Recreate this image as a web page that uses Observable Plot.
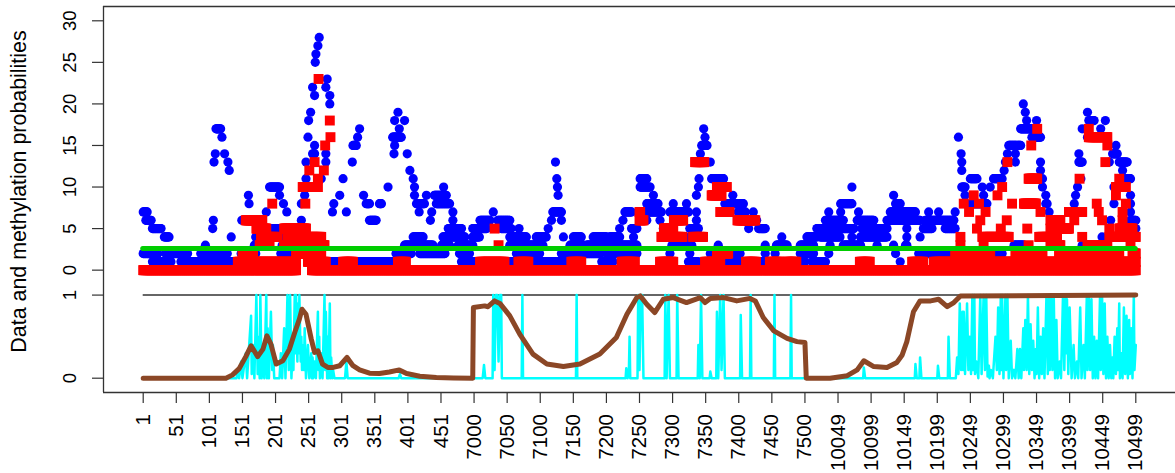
<!DOCTYPE html>
<html><head><meta charset="utf-8">
<script src="https://cdn.jsdelivr.net/npm/d3@7"></script>
<script src="https://cdn.jsdelivr.net/npm/@observablehq/plot@0.6"></script>
<style>body{margin:0;background:#fff}</style>
</head><body><div id="chart"></div>
<script>
// ---- axis categories ----
const xTickIndex = [1,51,101,151,201,251,301,351,401,451,501,551,601,651,701,751,801,851,901,951,1001,1051,1101,1151,1201,1251,1301,1351,1401,1451,1501];
const xTickLabels = ["1","51","101","151","201","251","301","351","401","451","7000","7050","7100","7150","7200","7250","7300","7350","7400","7450","7500","10049","10099","10149","10199","10249","10299","10349","10399","10449","10499"];
const countTicks = [0,5,10,15,20,25,30];
const probTicks = [0,1];
const yTitle = "Data and methylation probabilities";

// ---- top panel: total reads (blue) as runs [fromIndex, toIndex, count] ----
const blueRuns = [
[15,43,1],[58,116,1],[121,141,1],[285,382,1],[482,510,1],[547,568,1],[583,648,1],[655,663,1],[694,711,1],[825,840,1],[848,848,1],[885,913,1],[923,948,1],[969,969,1],[994,1001,1],[1012,1032,1],[1145,1145,1],[1420,1420,1],
[1,23,2],[35,68,2],[88,101,2],[106,128,2],[149,171,2],[209,224,2],[383,406,2],[419,457,2],[479,494,2],[565,600,2],[633,691,2],[701,747,2],[797,797,2],[827,827,2],[858,858,2],[893,903,2],[941,941,2],[956,956,2],[994,1014,2],[1037,1037,2],[1138,1138,2],[1173,1228,2],[1284,1299,2],
[95,95,3],[169,169,3],[211,211,3],[396,439,3],[452,464,3],[477,499,3],[555,605,3],[646,666,3],[671,747,3],[800,830,3],[870,870,3],[941,941,3],[958,974,3],[994,1014,3],[1039,1039,3],[1059,1085,3],[1110,1110,3],[1135,1135,3],[1153,1155,3],[1317,1332,3],[1420,1420,3],
[33,40,4],[134,134,4],[171,171,4],[211,211,4],[409,424,4],[454,487,4],[499,509,4],[555,580,4],[595,610,4],[636,636,4],[651,663,4],[681,701,4],[706,721,4],[742,742,4],[827,840,4],[966,966,4],[1004,1019,4],[1024,1054,4],[1072,1072,4],[1085,1125,4],[1155,1155,4],[1175,1175,4],[1450,1450,4],
[15,28,5],[106,106,5],[176,209,5],[462,482,5],[499,520,5],[542,557,5],[569,569,5],[613,613,5],[721,721,5],[739,747,5],[787,787,5],[827,840,5],[916,916,5],[931,941,5],[1019,1029,5],[1034,1075,5],[1087,1125,5],[1155,1155,5],[1180,1193,5],[1213,1228,5],[1501,1501,5],
[5,13,6],[107,107,6],[150,150,6],[240,240,6],[343,353,6],[435,435,6],[469,469,6],[510,525,6],[537,555,6],[618,618,6],[633,633,6],[726,726,6],[752,762,6],[782,782,6],[837,837,6],[900,900,6],[928,928,6],[1032,1059,6],[1080,1105,6],[1125,1175,6],[1183,1226,6],[1463,1463,6],[1493,1501,6],
[1,7,7],[187,187,7],[218,218,7],[287,287,7],[308,308,7],[418,418,7],[437,437,7],[469,469,7],[530,530,7],[620,633,7],[729,739,7],[762,784,7],[797,825,7],[837,837,7],[878,878,7],[900,911,7],[923,923,7],[1037,1037,7],[1055,1055,7],[1082,1082,7],[1130,1168,7],[1188,1188,7],[1203,1203,7],[1228,1228,7],[1370,1370,7],[1493,1493,7],
[161,161,8],[213,213,8],[240,240,8],[289,289,8],[338,343,8],[358,361,8],[414,426,8],[444,464,8],[762,779,8],[802,802,8],[822,822,8],[880,908,8],[1055,1072,8],[1138,1145,8],[1251,1276,8],[1365,1367,8],[1408,1408,8],[1468,1468,8],[1493,1493,8],
[160,160,9],[207,207,9],[245,245,9],[298,298,9],[334,334,9],[411,411,9],[429,429,9],[441,459,9],[628,628,9],[772,772,9],[837,837,9],[892,892,9],[1135,1135,9],[1243,1243,9],[1271,1271,9],[1365,1365,9],[1410,1410,9],[1493,1493,9],
[192,207,10],[371,371,10],[411,411,10],[455,455,10],[627,627,10],[752,767,10],[840,840,10],[1072,1072,10],[1238,1243,10],[1269,1269,10],[1281,1281,10],[1360,1360,10],[1413,1413,10],[1468,1468,10],
[247,247,11],[270,270,11],[303,303,11],[409,409,11],[626,626,11],[752,762,11],[841,841,11],[860,878,11],[1251,1261,11],[1286,1299,11],[1360,1360,11],[1418,1418,11],[1483,1493,11],
[131,131,12],[404,404,12],[1238,1238,12],[1302,1302,12],[1357,1357,12],[1481,1481,12],
[108,108,13],[129,129,13],[247,247,13],[277,277,13],[317,317,13],[624,624,13],[858,858,13],[1238,1238,13],[1304,1304,13],[1319,1319,13],[1357,1357,13],[1415,1420,13],[1461,1461,13],[1476,1488,13],
[110,110,14],[124,124,14],[257,260,14],[277,277,14],[380,380,14],[400,400,14],[843,843,14],[1237,1237,14],[1307,1307,14],[1319,1319,14],[1415,1415,14],[1466,1473,14],
[260,260,15],[318,323,15],[381,381,15],[845,853,15],[1309,1327,15],[1471,1471,15],
[120,120,16],[250,250,16],[325,325,16],[378,391,16],[850,850,16],[1233,1233,16],[1344,1357,16],[1428,1458,16],
[111,118,17],[328,328,17],[388,388,17],[848,848,17],[1327,1344,17],[1420,1420,17],[1448,1448,17],
[251,251,18],[381,381,18],[396,396,18],[1336,1336,18],[1351,1351,18],[1430,1438,18],[1455,1455,18],
[254,254,19],[386,386,19],[1334,1334,19],[1428,1428,19],
[283,283,20],[1331,1331,20],
[260,260,21],[283,283,21],
[257,257,22],[277,277,22],
[279,279,23],
[261,261,25],[262,262,26],[265,265,27],[267,267,28]
];

// ---- top panel: methylated reads (red) as runs [fromIndex, toIndex, count] ----
const redRuns = [
[1,232,0],[256,1501,0],
[144,232,1],[250,277,1],[303,318,1],[386,398,1],[510,547,1],[568,583,1],[648,663,1],[724,744,1],[782,802,1],[850,873,1],[912,927,1],[948,964,1],[973,988,1],[1084,1099,1],[1163,1180,1],[1196,1425,1],[1438,1501,1],
[151,167,2],[232,270,2],[868,885,2],[1228,1281,2],[1319,1360,2],[1385,1476,2],[1496,1501,2],
[177,192,3],[214,250,3],[255,275,3],[538,538,3],[1236,1236,3],[1271,1271,3],[1339,1339,3],[1372,1387,3],[1428,1458,3],[1493,1493,3],
[179,204,4],[219,270,4],[784,799,4],[802,816,4],[832,847,4],[1236,1236,4],[1269,1309,4],[1355,1382,4],[1420,1420,4],[1461,1501,4],
[172,187,5],[214,247,5],[532,532,5],[788,802,5],[1261,1261,5],[1297,1297,5],[1337,1337,5],[1372,1400,5],[1461,1461,5],[1476,1496,5],
[156,181,6],[751,757,6],[803,817,6],[899,926,6],[1266,1266,6],[1306,1306,6],[1372,1387,6],[1408,1408,6],[1450,1450,6],[1481,1481,6],
[751,752,7],[873,887,7],[1249,1249,7],[1274,1274,7],[1357,1357,7],[1400,1420,7],[1445,1445,7],[1481,1481,7],
[196,196,8],[246,246,8],[1241,1241,8],[1264,1264,8],[1314,1314,8],[1332,1350,8],[1442,1442,8],[1486,1486,8],
[860,875,9],[1256,1256,9],[1292,1292,9],[1471,1471,9],
[242,265,10],[868,883,10],[1299,1299,10],[1471,1486,10],
[265,265,11],[1339,1352,11],[1416,1416,11],[1476,1476,11],
[252,252,12],[274,274,12],
[260,260,13],[835,849,13],[1307,1307,13],[1455,1455,13],
[276,276,15],[1343,1343,15],[1458,1458,15],
[284,284,16],[1430,1458,16],
[1352,1352,17],[1430,1430,17],
[283,283,18],
[266,266,23]
];

const greenLevel = 2.6;

// ---- bottom panel: per-site probability (cyan) [index, p] ----
const cyanProb = [
[1,0],[142,0],
[144,0.1],[146,0],[149,0.2],[151,0],[156,0.3],[158,0],[164,0.75],[165,0.05],[167,0.4],[169,0],[172,1],[174,0.05],[176,0.5],[177,0],[178,1],[180,0],[182,0.3],[184,0],[187,1],[188,0],[189,0.6],[191,0],[194,0.8],[196,0.1],[197,0.4],[199,0],[207,0],[209,0.3],[211,0],[214,0.6],[216,0],[219,1],[221,0.1],[223,1],[225,0],[227,0.4],[228,0.1],[230,1],[231,0.3],[232,1],[234,0.2],[235,0.9],[236,0.3],[237,1],[239,0.2],[240,0.5],[241,0.1],[242,0.4],[244,0.1],[245,0.6],[247,0],[250,0.4],[252,0],[255,0.3],[256,0],[257,0.25],[258,0],[260,0.2],[262,0],[265,0.8],[266,0.1],[267,0.5],[268,0],[270,0.3],[272,0],[275,1],[276,0.1],[277,0.8],[279,0],[280,0.5],[281,0],[283,0.9],[284,0],[285,0.25],[287,0],[288,0.1],[290,0],
[306,0],[308,0.2],[310,0],
[387,0],[389,0.05],[391,0],
[514,0],[516,0.16],[518,0],
[529,0],[530,1],[532,0.1],[534,1],[536,1],[538,0.2],[540,1],[542,1],[543,0],
[573,0],[574,1],[575,0],
[655,0],[656,1],[657,0],
[730,0],[731,0.12],[733,0],[735,0.1],[736,0.5],[737,0],
[748,0],[749,1],[751,0.1],[753,1],[755,1],[757,0],
[789,0],[790,1],[792,0],[795,1],[797,0],
[807,0],[808,1],[810,0],
[839,0],[840,0.4],[842,0],[844,1],[846,0],
[857,0],[858,0.08],[860,0],
[867,0],[868,0.8],[870,0],[873,1],[875,0.1],[878,1],[880,0],
[903,0],[904,0.76],[906,0],
[918,0],[919,1],[920,0],
[954,0],[955,1],[956,0],
[979,0],[980,1],[981,0],
[1089,0],[1090,0.13],[1092,0],
[1167,0],[1168,0.17],[1170,0],[1174,0],[1175,0.25],[1177,0],
[1201,0],[1202,0.15],[1204,0],
[1217,0],[1218,0.5],[1220,0],
[1229,0],[1231,0.25],[1233,0.05],[1235,0.9],[1237,0.1],[1239,0.8],[1240,0.1],[1241,0.8],[1243,0.05],[1246,0.9],[1248,0.1],[1250,0.5],[1252,0.05],[1254,1],[1255,0.1],[1257,1],[1258,0.05],[1260,0.2],[1263,0],[1266,1],[1268,0.05],[1271,1],[1273,0.1],[1275,1],[1277,0.02],[1279,0.15],[1280,0],[1282,0.1],[1285,0],[1289,0.5],[1291,0.1],[1293,0.85],[1295,0.05],[1297,1],[1298,0.1],[1299,1],[1301,0],[1304,1],[1305,0.1],[1307,1],[1309,0],[1312,0.45],[1314,0],[1317,0.1],[1319,0],[1322,0.35],[1324,0],[1326,0.35],[1328,0],[1331,0.6],[1332,0.1],[1334,0.7],[1336,0.1],[1338,1],[1340,0.05],[1342,0.65],[1344,0.1],[1346,0.45],[1348,0],[1350,0.35],[1351,0.05],[1353,0.85],[1355,0],[1357,0.5],[1359,0.05],[1361,0.6],[1363,0],[1366,1],[1368,0.05],[1370,1],[1371,0.1],[1373,1],[1375,0.1],[1377,1],[1379,0],[1381,0.7],[1383,0],[1386,0.2],[1388,0],[1391,1],[1393,0.1],[1395,1],[1396,0.3],[1397,0.95],[1399,0.05],[1401,0.85],[1404,0],[1407,0.4],[1409,0],[1412,0.2],[1414,0],[1417,0.85],[1419,0],[1422,0.4],[1424,0],[1427,1],[1428,0.1],[1430,1],[1432,0.1],[1434,0.95],[1436,0],[1438,0.5],[1440,0],[1442,0.45],[1444,0],[1447,1],[1448,0.1],[1450,1],[1452,0.05],[1454,0.9],[1456,0],[1458,0.5],[1460,0],[1462,0.4],[1464,0],[1466,0.25],[1467,0],[1469,0.5],[1471,0.05],[1473,0.6],[1474,0.1],[1476,0.9],[1477,0],[1479,0.3],[1481,0],[1483,0.85],[1485,0.05],[1487,0.75],[1489,0],[1491,0.7],[1492,0.05],[1494,0.6],[1496,0],[1498,1],[1499,0.1],[1501,0.4]
];

// ---- bottom panel: smoothed methylation probability (brown) [index, p] ----
const brownProb = [
[1,0],[126,0],[136,0.04],[146,0.115],[156,0.26],[164,0.39],[174,0.26],[182,0.35],[188,0.51],[194,0.41],[202,0.17],[212,0.21],[222,0.35],[230,0.55],[237,0.71],[241,0.83],[247,0.77],[255,0.47],[260,0.31],[265,0.33],[272,0.17],[280,0.13],[288,0.13],[298,0.15],[309,0.25],[318,0.15],[328,0.1],[343,0.06],[358,0.056],[373,0.075],[388,0.1],[399,0.056],[419,0.024],[444,0.008],[470,0.002],[499,0],
[500,0.85],[517,0.87],[522,0.86],[532,0.93],[540,0.9],[555,0.75],[570,0.53],[590,0.29],[611,0.17],[636,0.14],[661,0.17],[691,0.29],[716,0.49],[732,0.77],[747,0.97],[752,0.99],[762,0.89],[774,0.79],[787,0.95],[802,0.97],[822,0.91],[843,0.97],[850,0.91],[858,0.96],[878,0.97],[898,0.93],[918,0.96],[926,0.93],[938,0.73],[954,0.57],[974,0.48],[989,0.44],[1001,0.43],
[1003,0],[1039,0],[1065,0.03],[1080,0.1],[1090,0.21],[1105,0.14],[1125,0.13],[1140,0.19],[1148,0.28],[1155,0.44],[1165,0.8],[1175,0.93],[1191,0.93],[1203,0.95],[1216,0.86],[1226,0.91],[1236,0.99],[1501,1]
];

// ---- build ----
const probToY = p => 10 * p - 13;          // bottom panel placed under the count panel
const expand = runs => runs.flatMap(([a, b, v]) => d3.range(a, b + 1).map(i => ({i, v})));
const blue = expand(blueRuns);
const red = expand(redRuns);

const [xLo, xHi] = d3.extent(xTickIndex);
const xPad = 0.04 * (xHi - xLo);
const xDomain = [xLo - xPad, xHi + xPad];
const yLo = probToY(0), yHi = d3.max(countTicks);
const yPad = 0.04 * (yHi - yLo);
const yDomain = [yLo - yPad, yHi + yPad];

const yTickPos = [...countTicks, ...probTicks.map(probToY)];
const yTickText = [...countTicks.map(String), ...probTicks.map(String)];

const font = "'Liberation Sans', Arial, Helvetica, sans-serif";
const ink = "#333";

const chart = Plot.plot({
  width: 1175, height: 473,
  marginLeft: 103, marginRight: 0, marginTop: 6, marginBottom: 81,
  style: {fontFamily: font, fontSize: "18px", background: "#fff", color: "#000", overflow: "visible"},
  x: {domain: xDomain, axis: null},
  y: {domain: yDomain, axis: null},
  marks: [
    Plot.axisX(xTickIndex, {tickSize: 11, tickFormat: () => "", label: null, stroke: ink, strokeWidth: 1.2}),
    Plot.text(xTickIndex, {x: d => d, text: (d, i) => xTickLabels[i], frameAnchor: "bottom", dy: 21.5, rotate: -90, textAnchor: "end", lineAnchor: "middle", fontSize: 20.5, fill: "#000"}),
    Plot.axisY(yTickPos, {tickSize: 11, tickFormat: () => "", label: null, stroke: ink, strokeWidth: 1.2}),
    Plot.text(yTickPos, {y: d => d, text: (d, i) => yTickText[i], frameAnchor: "left", dx: -27.5, rotate: -90, textAnchor: "middle", lineAnchor: "bottom", fontSize: 18.5, fill: "#000"}),
    Plot.text([yTitle], {text: d => d, frameAnchor: "left", dx: -78, dy: -8, rotate: -90, textAnchor: "middle", lineAnchor: "bottom", fontSize: 21.4, fill: "#000"}),
    Plot.dot(blue, {x: "i", y: "v", r: 4.6, fill: "#0000FF"}),
    Plot.dot(red, {x: "i", y: "v", r: 5.6, symbol: "square", fill: "#FF0000"}),
    Plot.ruleY([greenLevel], {x1: xLo, x2: xHi, stroke: "#00CD00", strokeWidth: 5, strokeLinecap: "round"}),
    Plot.ruleY([probToY(1)], {x1: xLo, x2: xHi, stroke: ink, strokeWidth: 1.5}),
    Plot.lineY(cyanProb, {x: d => d[0], y: d => probToY(d[1]), stroke: "#00FFFF", strokeWidth: 2.5}),
    Plot.lineY(brownProb, {x: d => d[0], y: d => probToY(d[1]), stroke: "#8B4726", strokeWidth: 5, strokeLinejoin: "round", strokeLinecap: "round"}),
    Plot.ruleY([yDomain[1]], {stroke: ink, strokeWidth: 1.3}),
    Plot.ruleY([yDomain[0]], {stroke: ink, strokeWidth: 1.3}),
    Plot.ruleX([xDomain[0]], {stroke: ink, strokeWidth: 1.3})
  ]
});
document.getElementById("chart").appendChild(chart);
</script>
</body></html>
